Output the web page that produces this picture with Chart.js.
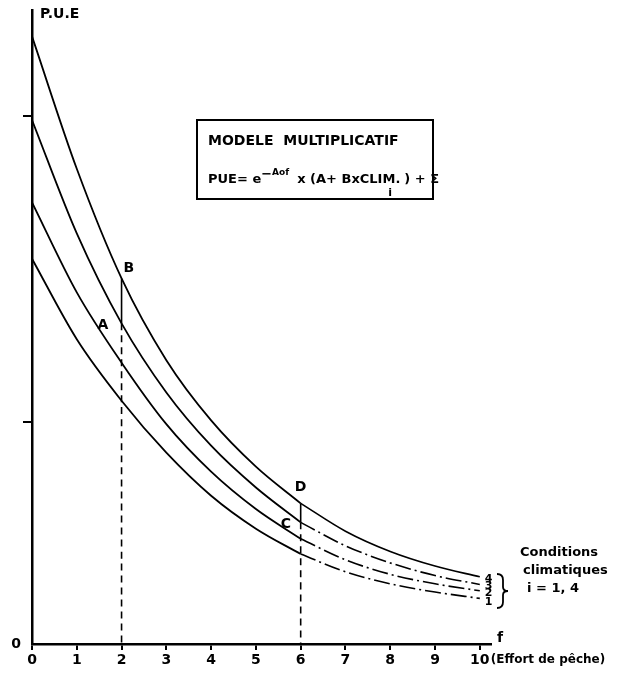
<!DOCTYPE html>
<html>
<head>
<meta charset="utf-8">
<script src="https://cdn.jsdelivr.net/npm/chart.js@4"></script>
<style>
  html, body { margin: 0; padding: 0; background: #fff; }
  #wrap { width: 636px; height: 678px; }
</style>
</head>
<body>
<div id="wrap"><canvas id="pueChart" width="636" height="678"></canvas></div>
<script>
// effort de peche (f)
const effort = [0, 1, 2, 3, 4, 5, 6, 7, 8, 9, 10];
// PUE for the 4 climate conditions
const clim1 = [6.08, 4.81, 3.84, 3.02, 2.34, 1.82, 1.42, 1.14, 0.95, 0.82, 0.72];
const clim2 = [6.97, 5.55, 4.44, 3.47, 2.72, 2.13, 1.66, 1.33, 1.10, 0.95, 0.84];
const clim3 = [8.27, 6.48, 5.06, 3.97, 3.13, 2.47, 1.92, 1.55, 1.28, 1.08, 0.94];
const clim4 = [9.59, 7.50, 5.77, 4.48, 3.53, 2.80, 2.22, 1.78, 1.46, 1.23, 1.06];
const xTicks = [0, 1, 2, 3, 4, 5, 6, 7, 8, 9, 10];
const yTicks = [0, 3.5, 8.33];
const curveNames = ['1', '2', '3', '4'];

const curves = [clim1, clim2, clim3, clim4];
const FONT = '"DejaVu Sans", sans-serif';

function pts(arr, from, to) {
    return effort.filter(x => x >= from && x <= to).map(x => ({ x: x, y: arr[effort.indexOf(x)] }));
}

let datasets = [];
curves.forEach((c, i) => {
    datasets.push({ data: pts(c, 0, 6), borderColor: '#000', borderWidth: 1.8 });
    datasets.push({
        data: pts(c, 6, 10), borderColor: '#000', borderWidth: 1.6,
        borderDash: i === 3 ? [] : [16, 4, 2, 4]
    });
});
// verticals at f = 2 and f = 6
[2, 6].forEach(f => {
    const k = effort.indexOf(f);
    datasets.push({ data: [{ x: f, y: clim4[k] }, { x: f, y: clim3[k] }], borderColor: '#000', borderWidth: 1.6, tension: 0 });
    datasets.push({ data: [{ x: f, y: clim3[k] }, { x: f, y: 0 }], borderColor: '#000', borderWidth: 1.6, borderDash: [7, 5], tension: 0 });
});

// text, box and brace drawn on top
const decor = {
    id: 'decor',
    afterDraw(chart) {
        const c = chart.ctx, xs = chart.scales.x, ys = chart.scales.y;
        const X = v => xs.getPixelForValue(v), Y = v => ys.getPixelForValue(v);
        c.save();
        c.fillStyle = '#000';
        c.strokeStyle = '#000';
        c.textBaseline = 'middle';

        c.font = 'bold 14px ' + FONT;
        c.textAlign = 'left';
        c.fillText('P.U.E', 40, 14);
        c.fillText('f', xs.right + 6, ys.bottom - 6);

        // point letters
        c.font = 'bold 14px ' + FONT;
        c.fillText('B', X(2) + 2, Y(clim4[2]) - 10);
        c.fillText('A', X(2) - 24, Y(clim3[2]) + 2);
        c.fillText('D', X(6) - 6, Y(clim4[6]) - 16);
        c.fillText('C', X(6) - 20, Y(clim3[6]) + 2);

        // curve numbers
        c.font = 'bold 11px ' + FONT;
        curves.forEach((arr, i) => {
            c.fillText(curveNames[i], X(10) + 5, Y(arr[10]) + 2 + (i === 0 ? 2 : 0));
        });

        // brace
        c.lineWidth = 1.8;
        c.beginPath();
        const bx = 497, by0 = 574, by1 = 608, bm = (by0 + by1) / 2;
        c.moveTo(bx, by0);
        c.quadraticCurveTo(bx + 6, by0, bx + 6, by0 + 6);
        c.lineTo(bx + 6, bm - 4);
        c.quadraticCurveTo(bx + 6, bm, bx + 11, bm);
        c.quadraticCurveTo(bx + 6, bm, bx + 6, bm + 4);
        c.lineTo(bx + 6, by1 - 6);
        c.quadraticCurveTo(bx + 6, by1, bx, by1);
        c.stroke();

        c.font = 'bold 13px ' + FONT;
        c.fillText('Conditions', 520, 553);
        c.fillText('climatiques', 523, 571);
        c.fillText('i = 1, 4', 527, 589);

        // x axis caption after "10"
        c.font = 'bold 12px ' + FONT;
        c.fillText('(Effort de pêche)', X(10) + 11, 660);

        // model box
        c.lineWidth = 2;
        c.strokeRect(197, 120, 236, 79);
        c.font = 'bold 14px ' + FONT;
        c.fillText('MODELE  MULTIPLICATIF', 208, 141);
        c.font = 'bold 13px ' + FONT;
        let x = 208;
        const put = (t, f, dy) => { c.font = f; c.fillText(t, x, 180 + (dy || 0)); x += c.measureText(t).width; };
        put('PUE= e', 'bold 13px ' + FONT);
        put('\u2212', 'bold 13px ' + FONT, -5);
        put('Aof', 'bold 9px ' + FONT, -7);
        x += 8;
        put('x (A+ BxCLIM.', 'bold 13px ' + FONT);
        c.font = 'bold 11px ' + FONT;
        c.fillText('i', x - 12, 193);
        x += 4;
        put(') + \u03A3', 'bold 13px ' + FONT);
        c.restore();
    }
};

new Chart(document.getElementById('pueChart'), {
    type: 'line',
    data: { datasets: datasets },
    options: {
        responsive: false,
        animation: false,
        events: [],
        layout: { padding: { left: 0, right: 145, top: 4, bottom: 0 } },
        elements: {
            point: { radius: 0 },
            line: { tension: 0.4, cubicInterpolationMode: 'monotone' }
        },
        plugins: { legend: { display: false }, tooltip: { enabled: false } },
        scales: {
            x: {
                type: 'linear', min: 0, max: 10.25,
                afterBuildTicks: s => { s.ticks = xTicks.map(v => ({ value: v })); },
                afterFit: s => { s.height = 34; },
                border: { color: '#000', width: 2.5 },
                grid: { drawOnChartArea: false, tickLength: 6, color: '#000', lineWidth: 2 },
                ticks: {
                    color: '#000', padding: 2,
                    font: { family: FONT, size: 14, weight: 'bold' },
                    callback: v => String(v)
                }
            },
            y: {
                min: 0, max: 10,
                afterBuildTicks: s => { s.ticks = yTicks.map(v => ({ value: v })); },
                afterFit: s => { s.width = 32; },
                border: { color: '#000', width: 2.5 },
                grid: {
                    drawOnChartArea: false, tickLength: 9, lineWidth: 2,
                    color: ctx => (ctx.tick && ctx.tick.value === 0) ? 'rgba(0,0,0,0)' : '#000'
                },
                ticks: {
                    color: '#000', padding: 2,
                    font: { family: FONT, size: 14, weight: 'bold' },
                    callback: v => v === 0 ? '0' : ''
                }
            }
        }
    },
    plugins: [decor]
});
</script>
</body>
</html>
